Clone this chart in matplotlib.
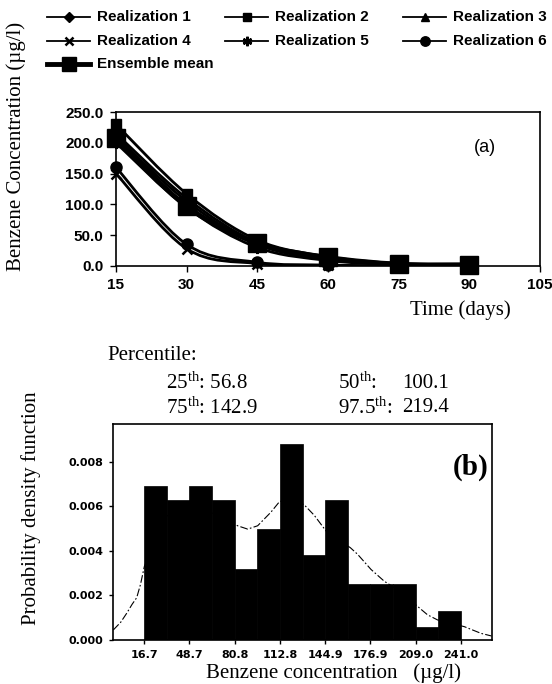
import matplotlib
matplotlib.use('Agg')
import matplotlib.pyplot as plt
from matplotlib.path import Path
from matplotlib.patches import PathPatch
from matplotlib.lines import Line2D

plt.rcParams['mathtext.fontset'] = 'custom'
plt.rcParams['mathtext.rm'] = 'Liberation Serif'
plt.rcParams['mathtext.it'] = 'Liberation Serif:italic'
plt.rcParams['mathtext.bf'] = 'Liberation Serif:bold'

# ---------------- data: panel (a) ----------------
days = [15, 30, 45, 60, 75, 90]
x_ticks_a = [15, 30, 45, 60, 75, 90, 105]
y_ticks_a = [0, 50, 100, 150, 200, 250]
real1 = [210, 105, 35, 11, 3, 1]
real2 = [230, 117, 42, 15, 4, 1]
real3 = [215, 110, 38, 13, 3, 1]
real4 = [150, 28, 4, 1, 0.3, 0.1]
real5 = [200, 95, 30, 9, 2, 0.5]
real6 = [160, 35, 6, 1.5, 0.4, 0.1]
ens_mean = [207, 97, 37, 14, 3, 2]
series_names = ['Realization 1', 'Realization 2', 'Realization 3',
                'Realization 4', 'Realization 5', 'Realization 6',
                'Ensemble mean']

# ---------------- data: panel (b) ----------------
bin_left = [16.7, 32.7, 48.7, 64.8, 80.8, 96.8, 112.8, 128.9, 144.9,
            160.9, 176.9, 193.0, 209.0, 225.0]
bin_width = 16.02
density = [0.0069, 0.0063, 0.0069, 0.0063, 0.0032, 0.0050, 0.0088,
           0.0038, 0.0063, 0.0025, 0.0025, 0.0025, 0.0006, 0.0013]
curve_x = [-5.3, 0, 4.2, 8, 11.3, 14, 16.7, 30, 50, 70, 82.8, 89.9, 97,
           106.4, 112.3, 120, 130, 137.1, 145.4, 154, 162.6, 167.8, 177.3,
           186.7, 200, 210.3, 217.4, 224.5, 243.4, 255.2, 262.7]
curve_y = [0.00045, 0.0008, 0.0012, 0.0016, 0.0019, 0.0025, 0.0033, 0.0055,
           0.0060, 0.0056, 0.00513, 0.00498, 0.00513, 0.00574, 0.0062,
           0.0064, 0.00607, 0.0056, 0.0049, 0.0045, 0.00415, 0.00385,
           0.00317, 0.00264, 0.0021, 0.00151, 0.00113, 0.0009, 0.0006,
           0.0003, 0.00018]
x_tick_b = [16.7, 48.7, 80.8, 112.8, 144.9, 176.9, 209.0, 241.0]
x_tick_b_labels = ['16.7', '48.7', '80.8', '112.8', '144.9', '176.9',
                   '209.0', '241.0']
y_ticks_b = [0.000, 0.002, 0.004, 0.006, 0.008]

W, H = 552, 684
fig = plt.figure(figsize=(W / 100, H / 100), dpi=100)


def fx(px):
    return px / W


def fy(py):
    return 1 - py / H


def smooth_path(xs, ys, t=1.0):
    n = len(xs)
    pts = list(zip(xs, ys))
    verts = [pts[0]]
    codes = [Path.MOVETO]
    for i in range(n - 1):
        p0 = pts[i - 1] if i > 0 else pts[i]
        p1 = pts[i]
        p2 = pts[i + 1]
        p3 = pts[i + 2] if i + 2 < n else pts[i + 1]
        c1 = (p1[0] + (p2[0] - p0[0]) / 6 * t, p1[1] + (p2[1] - p0[1]) / 6 * t)
        c2 = (p2[0] - (p3[0] - p1[0]) / 6 * t, p2[1] - (p3[1] - p1[1]) / 6 * t)
        verts += [c1, c2, p2]
        codes += [Path.CURVE4] * 3
    return Path(verts, codes)


sans = 'Liberation Sans'
serif = 'Liberation Serif'
ASTER = (6, 2, 0)

# ---------------- panel (a) ----------------
ax1 = fig.add_axes([fx(116), fy(266), fx(540) - fx(116), fy(112) - fy(266)])
data_a = [real1, real2, real3, real4, real5, real6, ens_mean]
markers = ['D', 's', '^', 'x', ASTER, 'o', 's']
msizes = [6, 7.5, 7.5, 7, 8, 8, 13]
mews = [1.0, 1.0, 1.0, 1.8, 1.8, 1.0, 1.0]
lws = [2.0, 2.0, 2.0, 2.0, 2.0, 2.0, 3.5]
for vals, m, ms, mw, lw in zip(data_a, markers, msizes, mews, lws):
    ax1.add_patch(PathPatch(smooth_path(days, vals), fill=False,
                            edgecolor='black', lw=lw, zorder=3,
                            joinstyle='round', capstyle='round'))
    ax1.plot(days, vals, ls='none', marker=m, ms=ms, mfc='black',
             mec='black', mew=mw, clip_on=False, zorder=4)

ax1.set_xlim(15, 105)
ax1.set_ylim(0, 250)
ax1.set_xticks(x_ticks_a)
ax1.set_yticks(y_ticks_a)
ax1.set_yticklabels([f'{v:.1f}' for v in y_ticks_a])
ax1.tick_params(direction='out', length=4, width=1, pad=5)
for lab in ax1.get_xticklabels() + ax1.get_yticklabels():
    lab.set_fontfamily(sans)
    lab.set_fontweight('bold')
    lab.set_fontsize(11)
for sp in ax1.spines.values():
    sp.set_linewidth(1.2)
ax1.text(0.87, 0.77, '(a)', transform=ax1.transAxes, fontsize=13,
         family=sans, ha='center', va='center')

fig.text(fx(460), fy(310), 'Time (days)', family=serif, fontsize=15,
         ha='center', va='center')
fig.text(fx(16), fy(146), 'Benzene Concentration (\u00b5g/l)', family=serif,
         fontsize=15, ha='center', va='center', rotation=90)

# manual legend laid out in rows
col_x = [47, 225, 403]
row_y = [17, 41, 64]
for k, name in enumerate(series_names):
    r, c = divmod(k, 3)
    x0, y0 = col_x[c], row_y[r]
    lw = 1.3 if k < 6 else 3.5
    fig.add_artist(Line2D([fx(x0), fx(x0 + 43)], [fy(y0), fy(y0)],
                          transform=fig.transFigure, color='black', lw=lw))
    fig.add_artist(Line2D([fx(x0 + 21.5)], [fy(y0)], transform=fig.transFigure,
                          ls='none', marker=markers[k],
                          ms=msizes[k] * (0.85 if k < 6 else 0.8),
                          mfc='black', mec='black', mew=mews[k]))
    fig.text(fx(x0 + 50), fy(y0), name, family=sans, fontweight='bold',
             fontsize=11, ha='left', va='center')

# ---------------- panel (b) ----------------
ax2 = fig.add_axes([fx(113), fy(640), fx(491.5) - fx(113), fy(424) - fy(640)])
ax2.plot(curve_x, curve_y, color='black', lw=0.8, ls=(0, (7, 2, 1.5, 2)),
         zorder=1)
ax2.bar(bin_left, density, width=bin_width, align='edge', color='black',
        edgecolor='black', lw=0.5, zorder=2)
ax2.set_xlim(-5.5, 262.7)
ax2.set_ylim(0, 0.0097)
ax2.set_xticks(x_tick_b)
ax2.set_xticklabels(x_tick_b_labels)
ax2.set_yticks(y_ticks_b)
ax2.set_yticklabels([f'{v:.3f}' for v in y_ticks_b])
ax2.tick_params(direction='out', length=3, width=1, pad=4)
for lab in ax2.get_xticklabels() + ax2.get_yticklabels():
    lab.set_fontfamily('DejaVu Sans')
    lab.set_fontweight('bold')
    lab.set_fontsize(8)
for sp in ax2.spines.values():
    sp.set_linewidth(1.2)
ax2.text(0.945, 0.80, '(b)', transform=ax2.transAxes, fontsize=21,
         family=serif, fontweight='bold', ha='center', va='center')

fig.text(fx(333), fy(673), 'Benzene concentration   (\u00b5g/l)', family=serif,
         fontsize=15, ha='center', va='center')
fig.text(fx(31), fy(508), 'Probability density function', family=serif,
         fontsize=15, ha='center', va='center', rotation=90)

# percentile annotations
fig.text(fx(107), fy(356), 'Percentile:', family=serif, fontsize=15,
         ha='left', va='center')
fig.text(fx(166), fy(383), r'25$^{\mathrm{th}}$: 56.8', family=serif,
         fontsize=15, ha='left', va='center')
fig.text(fx(338), fy(383), r'50$^{\mathrm{th}}$:', family=serif,
         fontsize=15, ha='left', va='center')
fig.text(fx(402), fy(383), '100.1', family=serif, fontsize=15,
         ha='left', va='center')
fig.text(fx(166), fy(408), r'75$^{\mathrm{th}}$: 142.9', family=serif,
         fontsize=15, ha='left', va='center')
fig.text(fx(338), fy(408), r'97.5$^{\mathrm{th}}$:', family=serif,
         fontsize=15, ha='left', va='center')
fig.text(fx(402), fy(408), '219.4', family=serif, fontsize=15,
         ha='left', va='center')

fig.savefig('out.png', dpi=100, facecolor='white')
